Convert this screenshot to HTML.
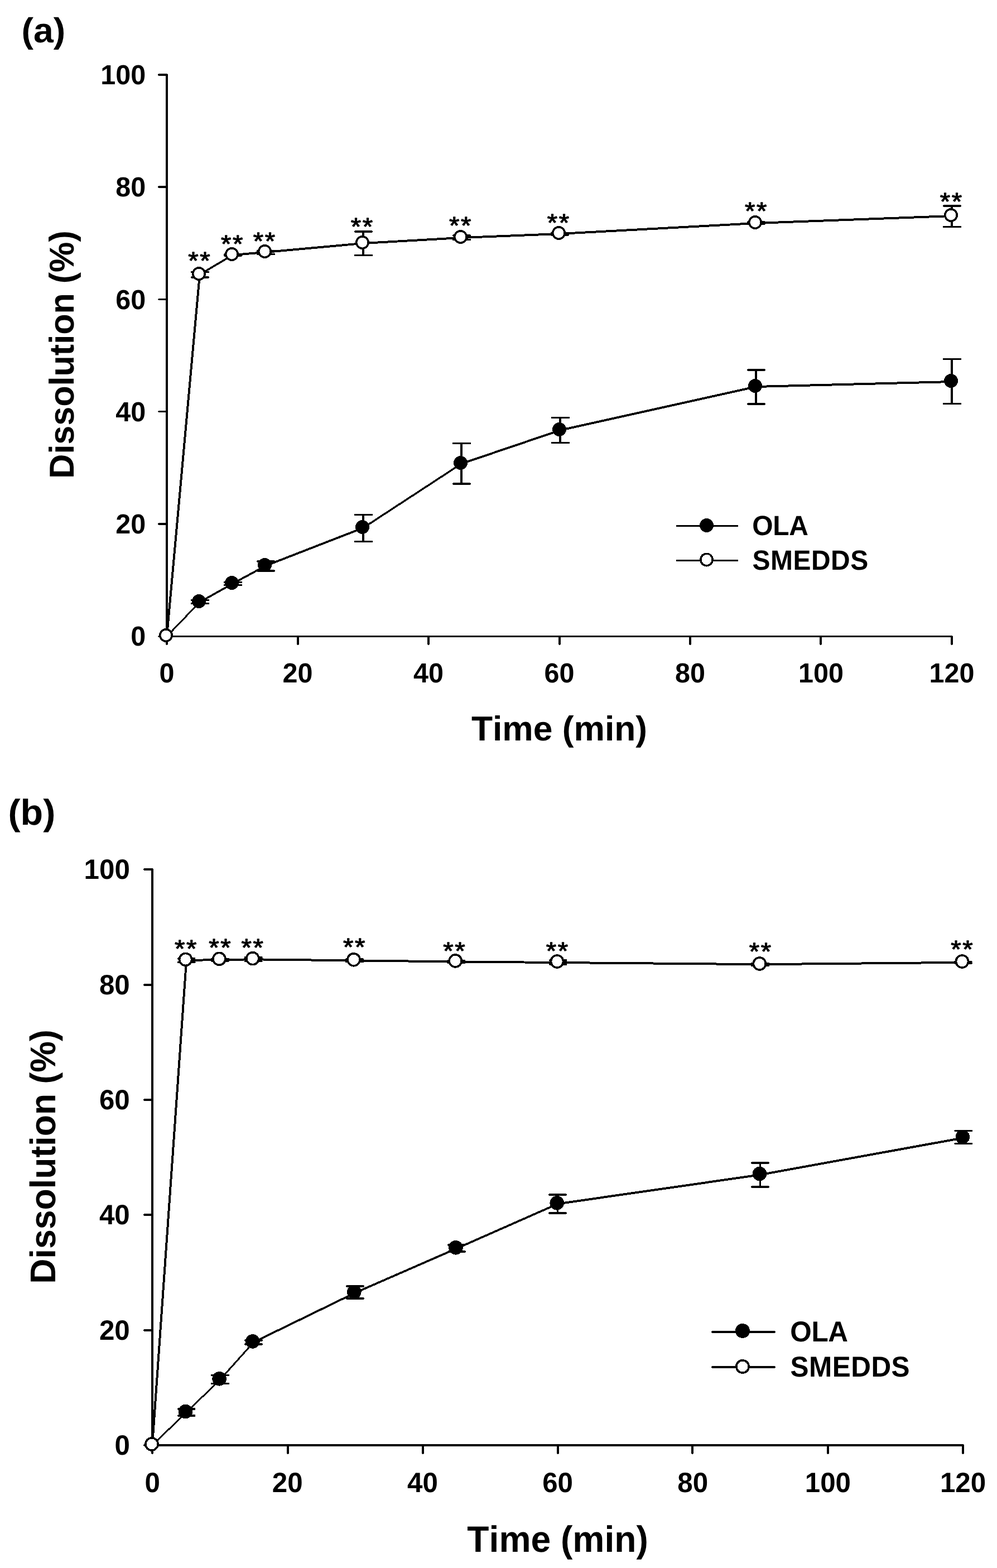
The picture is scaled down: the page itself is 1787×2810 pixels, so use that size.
<!DOCTYPE html>
<html lang="en">
<head>
<meta charset="utf-8">
<title>Dissolution profiles of OLA and SMEDDS</title>
<style>
html,body{margin:0;padding:0;background:#fff;}
body{width:1787px;height:2810px;overflow:hidden;font-family:"Liberation Sans", sans-serif;}
figure{margin:0;}
svg{display:block;}
text{white-space:pre;font-kerning:none;font-variant-ligatures:none;}
</style>
</head>
<body>
<figure>
<svg width="1787" height="2810" viewBox="0 0 1787 2810" role="img" aria-label="Dissolution (%) versus time (min) for OLA and SMEDDS, panels (a) and (b)" shape-rendering="crispEdges" text-rendering="geometricPrecision">
<rect width="1787" height="2810" fill="#fff"/>
<g id="chart-a">
<g class="axes" stroke="#000" stroke-width="3.5" stroke-linecap="round" fill="none">
<path d="M299 134V1154.5"/>
<path d="M285 1140.5H1706"/>
<path d="M285 939H299M285 737.5H299M285 536.5H299M285 335H299M285 134H299"/>
<path d="M534 1140.5V1154.5M768 1140.5V1154.5M1003 1140.5V1154.5M1237 1140.5V1154.5M1471 1140.5V1154.5M1706 1140.5V1154.5"/>
</g>
<g class="tick-labels" font-family='"Liberation Sans", sans-serif' font-weight="700" font-size="48.5" fill="#000">
<text transform="translate(261.2 1157.45) scale(1 1.02)" text-anchor="end">0</text>
<text transform="translate(261.2 956.16) scale(1 1.02)" text-anchor="end">20</text>
<text transform="translate(261.2 754.87) scale(1 1.02)" text-anchor="end">40</text>
<text transform="translate(261.2 553.58) scale(1 1.02)" text-anchor="end">60</text>
<text transform="translate(261.2 352.29) scale(1 1.02)" text-anchor="end">80</text>
<text transform="translate(261.2 151) scale(1 1.02)" text-anchor="end">100</text>
<text transform="translate(299 1223.3) scale(1 1.02)" text-anchor="middle">0</text>
<text transform="translate(533.5 1223.3) scale(1 1.02)" text-anchor="middle">20</text>
<text transform="translate(768 1223.3) scale(1 1.02)" text-anchor="middle">40</text>
<text transform="translate(1002.5 1223.3) scale(1 1.02)" text-anchor="middle">60</text>
<text transform="translate(1237 1223.3) scale(1 1.02)" text-anchor="middle">80</text>
<text transform="translate(1471.5 1223.3) scale(1 1.02)" text-anchor="middle">100</text>
<text transform="translate(1706 1223.3) scale(1 1.02)" text-anchor="middle">120</text>
</g>
<g class="titles" font-family='"Liberation Sans", sans-serif' font-weight="700" font-size="62" fill="#000">
<text transform="translate(1002.5 1327) scale(1.005 1)" text-anchor="middle">Time (min)</text>
<text transform="translate(132 635.5) rotate(-90) scale(0.985 1)" text-anchor="middle">Dissolution (%)</text>
<text transform="translate(38.5 76.2) scale(1.03 1)" font-size="62.5">(a)</text>
</g>
<g class="series-ola">
<g stroke="#000" stroke-linecap="round" fill="none">
<path class="error-bars" stroke-width="3.5" d="M358 1075.5V1081.5M343.75 1075.5H373.25M343.75 1081.5H373.25M417 1043.5V1048.5M402.75 1043.5H432.25M402.75 1048.5H432.25M476 1006V1023M461.75 1006H491.25M461.75 1023H491.25M651 922.5V970.5M636.75 922.5H666.25M636.75 970.5H666.25M827 794.5V867M812.75 794.5H842.25M812.75 867H842.25M1004 748.5V793.5M989.75 748.5H1019.25M989.75 793.5H1019.25M1355 663V724M1340.75 663H1370.25M1340.75 724H1370.25M1706 643.5V723.5M1691.75 643.5H1721.25M1691.75 723.5H1721.25"/>
<path stroke-width="2.89" d="M299 1140.5L358 1079"/>
<path stroke-width="3.49" d="M358 1079L417 1046"/>
<path stroke-width="3.52" d="M417 1046L476 1014"/>
<path stroke-width="3.73" d="M476 1014L651 946"/>
<path stroke-width="3.35" d="M651 946L827 831"/>
<path stroke-width="3.79" d="M827 831L1004 771"/>
<path stroke-width="3.90" d="M1004 771L1355 693"/>
<path stroke-width="4.00" d="M1355 693L1706 684"/>
</g>
<g class="markers" fill="#000">
<circle cx="356.5" cy="1077.5" r="12.5"/>
<circle cx="415.5" cy="1044.5" r="12.5"/>
<circle cx="474.5" cy="1012.5" r="12.5"/>
<circle cx="649.5" cy="944.5" r="12.5"/>
<circle cx="825.5" cy="829.5" r="12.5"/>
<circle cx="1002.5" cy="769.5" r="12.5"/>
<circle cx="1353.5" cy="691.5" r="12.5"/>
<circle cx="1704.5" cy="682.5" r="12.5"/>
</g></g>
<g class="series-smedds">
<g stroke="#000" stroke-linecap="round" fill="none">
<path class="error-bars" stroke-width="3.5" d="M358 487.5V497M343.75 487.5H373.25M343.75 497H373.25M417 456V458M402.75 456H432.25M402.75 458H432.25M476 449.5V455.5M461.75 449.5H491.25M461.75 455.5H491.25M651 415V457.5M636.75 415H666.25M636.75 457.5H666.25M827 422V429.5M812.75 422H842.25M812.75 429.5H842.25M1003 417.5V421M988.75 417.5H1018.25M988.75 421H1018.25M1355 398V401M1340.75 398H1370.25M1340.75 401H1370.25M1706 369V406.5M1691.75 369H1721.25M1691.75 406.5H1721.25"/>
<path stroke-width="3.98" d="M299 1140.5L358 492"/>
<path stroke-width="3.44" d="M358 492L417 457"/>
<path stroke-width="3.99" d="M417 457L476 452"/>
<path stroke-width="3.98" d="M476 452L651 436"/>
<path stroke-width="3.99" d="M651 436L827 426"/>
<path stroke-width="4.00" d="M827 426L1003 419"/>
<path stroke-width="3.99" d="M1003 419L1355 400"/>
<path stroke-width="4.00" d="M1355 400L1706 387"/>
</g>
<g class="markers" fill="#fff" stroke="#000" stroke-width="3.5">
<circle cx="297.5" cy="1138.5" r="10.75"/>
<circle cx="356.5" cy="490.5" r="10.75"/>
<circle cx="415.5" cy="455.5" r="10.75"/>
<circle cx="474.5" cy="450.5" r="10.75"/>
<circle cx="649.5" cy="434.5" r="10.75"/>
<circle cx="825.5" cy="424.5" r="10.75"/>
<circle cx="1001.5" cy="417.5" r="10.75"/>
<circle cx="1353.5" cy="398.5" r="10.75"/>
<circle cx="1704.5" cy="385.5" r="10.75"/>
</g></g>
<g class="significance" font-family='"Liberation Sans", sans-serif' font-weight="400" font-size="44" fill="#000" stroke="#000" stroke-width="1.2" stroke-linejoin="round" letter-spacing="2.4">
<text transform="translate(337.3 481.9) scale(1.075 1)">**</text>
<text transform="translate(395.9 451.9) scale(1.075 1)">**</text>
<text transform="translate(453.8 446.9) scale(1.075 1)">**</text>
<text transform="translate(628.8 420.7) scale(1.075 1)">**</text>
<text transform="translate(805 419.2) scale(1.075 1)">**</text>
<text transform="translate(980.8 413.9) scale(1.075 1)">**</text>
<text transform="translate(1334.9 393) scale(1.075 1)">**</text>
<text transform="translate(1684.8 376.1) scale(1.075 1)">**</text>
</g>
<g class="legend">
<path stroke="#000" stroke-width="3.5" stroke-linecap="round" d="M1213.6 942.5H1321.3M1213.6 1004.5H1321.3"/>
<circle cx="1266.5" cy="941.5" r="12.5" fill="#000"/>
<circle cx="1266.5" cy="1003" r="10.75" fill="#fff" stroke="#000" stroke-width="3.5"/>
<g font-family='"Liberation Sans", sans-serif' font-weight="700" font-size="48" fill="#000">
<text transform="translate(1348.2 959.4) scale(1 1.04)" letter-spacing="-0.3">OLA</text>
<text transform="translate(1348.6 1021) scale(1 1.04)" letter-spacing="0.45">SMEDDS</text>
</g></g>
</g>
<g id="chart-b">
<g class="axes" stroke="#000" stroke-width="3.5" stroke-linecap="round" fill="none">
<path d="M273 1558V2604"/>
<path d="M259 2590H1726"/>
<path d="M259 2384H273M259 2177H273M259 1971H273M259 1765H273M259 1558H273"/>
<path d="M516 2590V2604M758 2590V2604M1000 2590V2604M1241 2590V2604M1484 2590V2604M1726 2590V2604"/>
</g>
<g class="tick-labels" font-family='"Liberation Sans", sans-serif' font-weight="700" font-size="49.3" fill="#000">
<text transform="translate(232.8 2607.2) scale(1 1.02)" text-anchor="end">0</text>
<text transform="translate(232.8 2400.84) scale(1 1.02)" text-anchor="end">20</text>
<text transform="translate(232.8 2194.48) scale(1 1.02)" text-anchor="end">40</text>
<text transform="translate(232.8 1988.12) scale(1 1.02)" text-anchor="end">60</text>
<text transform="translate(232.8 1781.76) scale(1 1.02)" text-anchor="end">80</text>
<text transform="translate(232.8 1575.4) scale(1 1.02)" text-anchor="end">100</text>
<text transform="translate(273.1 2674.3) scale(1 1.02)" text-anchor="middle">0</text>
<text transform="translate(515.25 2674.3) scale(1 1.02)" text-anchor="middle">20</text>
<text transform="translate(757.4 2674.3) scale(1 1.02)" text-anchor="middle">40</text>
<text transform="translate(999.55 2674.3) scale(1 1.02)" text-anchor="middle">60</text>
<text transform="translate(1241.7 2674.3) scale(1 1.02)" text-anchor="middle">80</text>
<text transform="translate(1483.85 2674.3) scale(1 1.02)" text-anchor="middle">100</text>
<text transform="translate(1726 2674.3) scale(1 1.02)" text-anchor="middle">120</text>
</g>
<g class="titles" font-family='"Liberation Sans", sans-serif' font-weight="700" font-size="64" fill="#000">
<text transform="translate(999.6 2781) scale(1.003 1.03)" text-anchor="middle">Time (min)</text>
<text transform="translate(99.3 2072.9) rotate(-90) scale(0.978 1)" text-anchor="middle">Dissolution (%)</text>
<text transform="translate(14.5 1478) scale(1.03 1)" font-size="64.5">(b)</text>
</g>
<g class="series-ola">
<g stroke="#000" stroke-linecap="round" fill="none">
<path class="error-bars" stroke-width="3.5" d="M334 2525V2537M319.25 2525H348.75M319.25 2537H348.75M394.6 2464.5V2479.5M379.85 2464.5H409.35M379.85 2479.5H409.35M454.4 2402V2409M439.65 2402H469.15M439.65 2409H469.15M636.3 2305V2327M621.55 2305H651.05M621.55 2327H651.05M818.4 2231V2243M803.65 2231H833.15M803.65 2243H833.15M999.7 2141V2174M984.95 2141H1014.45M984.95 2174H1014.45M1362.5 2084V2127M1347.75 2084H1377.25M1347.75 2127H1377.25M1726.8 2026.5V2049.5M1712.05 2026.5H1741.55M1712.05 2049.5H1741.55"/>
<path stroke-width="2.88" d="M273 2590L334 2531.1"/>
<path stroke-width="2.87" d="M334 2531.1L394.6 2472.4"/>
<path stroke-width="2.98" d="M394.6 2472.4L454.4 2405.5"/>
<path stroke-width="3.60" d="M454.4 2405.5L636.3 2316.9"/>
<path stroke-width="3.67" d="M636.3 2316.9L818.4 2237.4"/>
<path stroke-width="3.66" d="M818.4 2237.4L999.7 2157.4"/>
<path stroke-width="3.96" d="M999.7 2157.4L1362.5 2105.3"/>
<path stroke-width="3.94" d="M1362.5 2105.3L1726.8 2039.1"/>
</g>
<g class="markers" fill="#000">
<circle cx="332.5" cy="2529.5" r="12.8"/>
<circle cx="393.1" cy="2470.8" r="12.8"/>
<circle cx="452.9" cy="2403.9" r="12.8"/>
<circle cx="634.8" cy="2315.3" r="12.8"/>
<circle cx="816.9" cy="2235.8" r="12.8"/>
<circle cx="998.2" cy="2155.8" r="12.8"/>
<circle cx="1361.5" cy="2103.5" r="12.8"/>
<circle cx="1725.3" cy="2037.5" r="12.8"/>
</g></g>
<g class="series-smedds">
<g stroke="#000" stroke-linecap="round" fill="none">
<path class="error-bars" stroke-width="3.5" d="M334.1 1718V1724.5M319.35 1718H348.85M319.35 1724.5H348.85M394.4 1718.5V1722M379.65 1718.5H409.15M379.65 1722H409.15M454.3 1715.5V1722.5M439.55 1715.5H469.05M439.55 1722.5H469.05M635.5 1719V1723.5M620.75 1719H650.25M620.75 1723.5H650.25M817.7 1721.5V1725.5M802.95 1721.5H832.45M802.95 1725.5H832.45M1000 1721V1728M985.25 1721H1014.75M985.25 1728H1014.75M1362.6 1726.5V1730.5M1347.85 1726.5H1377.35M1347.85 1730.5H1377.35M1726.3 1723.5V1726M1711.55 1723.5H1741.05M1711.55 1726H1741.05"/>
<path stroke-width="3.99" d="M273 2590L334.1 1721"/>
<path stroke-width="4.00" d="M334.1 1721L394.4 1720"/>
<path stroke-width="4.00" d="M394.4 1720L454.3 1719.3"/>
<path stroke-width="4.00" d="M454.3 1719.3L635.5 1721.4"/>
<path stroke-width="4.00" d="M635.5 1721.4L817.7 1723.5"/>
<path stroke-width="4.00" d="M817.7 1723.5L1000 1725"/>
<path stroke-width="4.00" d="M1000 1725L1362.6 1728.2"/>
<path stroke-width="4.00" d="M1362.6 1728.2L1726.3 1724.8"/>
</g>
<g class="markers" fill="#fff" stroke="#000" stroke-width="3.6">
<circle cx="272" cy="2588" r="11"/>
<circle cx="332.6" cy="1719.4" r="11"/>
<circle cx="392.9" cy="1718.4" r="11"/>
<circle cx="452.8" cy="1717.7" r="11"/>
<circle cx="634" cy="1719.8" r="11"/>
<circle cx="816.2" cy="1721.9" r="11"/>
<circle cx="998.5" cy="1723" r="11"/>
<circle cx="1361.4" cy="1727" r="11"/>
<circle cx="1724.5" cy="1723" r="11"/>
</g></g>
<g class="significance" font-family='"Liberation Sans", sans-serif' font-weight="400" font-size="44" fill="#000" stroke="#000" stroke-width="1.2" stroke-linejoin="round" letter-spacing="2.4">
<text transform="translate(312.9 1714.8) scale(1.075 1)">**</text>
<text transform="translate(374.2 1712.7) scale(1.075 1)">**</text>
<text transform="translate(432.4 1712.7) scale(1.075 1)">**</text>
<text transform="translate(614.96 1712.3) scale(1.075 1)">**</text>
<text transform="translate(794.35 1719.1) scale(1.075 1)">**</text>
<text transform="translate(978.85 1718.74) scale(1.075 1)">**</text>
<text transform="translate(1342.8 1719.75) scale(1.075 1)">**</text>
<text transform="translate(1704.25 1715.9) scale(1.075 1)">**</text>
</g>
<g class="legend">
<path stroke="#000" stroke-width="3.5" stroke-linecap="round" d="M1276.7 2387H1388.2M1276.7 2450H1388.2"/>
<circle cx="1331" cy="2385" r="13" fill="#000"/>
<circle cx="1331" cy="2449" r="11.2" fill="#fff" stroke="#000" stroke-width="3.6"/>
<g font-family='"Liberation Sans", sans-serif' font-weight="700" font-size="49.5" fill="#000">
<text transform="translate(1416.2 2404.3) scale(1 1.04)" letter-spacing="-0.3">OLA</text>
<text transform="translate(1416.6 2467.1) scale(1 1.04)" letter-spacing="0.45">SMEDDS</text>
</g></g>
</g>
</svg>
</figure>
</body>
</html>
